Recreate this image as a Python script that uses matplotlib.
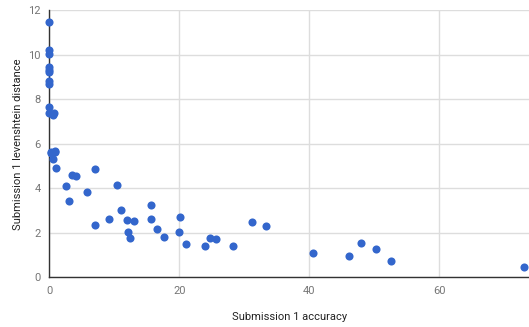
import matplotlib.pyplot as plt

# точки: точность (x) и расстояние Левенштейна (y)
accuracy = [0.0, 0.0, 0.0, 0.0, 0.0, 0.0, 0.0, 0.0, 0.0, 0.0, 0.75, 0.6,
            0.2, 0.85, 0.33, 0.9, 0.6, 1.0, 2.5, 3.0, 3.45, 4.1, 5.75, 7.0,
            7.0, 9.25, 10.45, 11.0, 12.0, 13.0, 12.15, 12.45, 15.6, 15.7,
            16.6, 17.6, 20.1, 20.0, 21.0, 23.9, 24.7, 25.6, 28.2, 31.2,
            33.3, 40.55, 46.1, 47.9, 50.2, 52.6, 73.0]
distance = [11.46, 10.2, 10.05, 9.45, 9.3, 9.23, 8.82, 8.68, 7.65, 7.37,
            7.4, 7.28, 5.63, 5.68, 5.59, 5.63, 5.33, 4.91, 4.1, 3.45, 4.58,
            4.54, 3.83, 4.88, 2.35, 2.61, 4.17, 3.04, 2.59, 2.52, 2.05, 1.75,
            3.27, 2.61, 2.16, 1.81, 2.71, 2.04, 1.51, 1.39, 1.75, 1.74, 1.41,
            2.47, 2.32, 1.07, 0.94, 1.53, 1.26, 0.71, 0.45]

x_ticks = [0, 20, 40, 60]
y_ticks = [0, 2, 4, 6, 8, 10, 12]

plt.rcParams['font.family'] = ['Roboto', 'DejaVu Sans']

fig = plt.figure(figsize=(5.29, 3.27), dpi=100)
ax = fig.add_axes([49.3 / 529, 0.152, 1 - 49.3 / 529, 0.9685 - 0.152])

ax.scatter(accuracy, distance, s=34, color='#3366cc', linewidths=0,
           zorder=3, clip_on=False)

ax.set_xlim(0, 73.8)
ax.set_ylim(0, 12)
ax.set_xticks(x_ticks)
ax.set_yticks(y_ticks)
ax.grid(True, color='#dddddd', linewidth=1)
ax.set_axisbelow(True)
for side in ['top', 'right']:
    ax.spines[side].set_visible(False)
for side in ['left', 'bottom']:
    ax.spines[side].set_color('#333333')
    ax.spines[side].set_linewidth(1)
    ax.spines[side].set_zorder(2)
ax.tick_params(length=0, labelsize=8, labelcolor='#757575', pad=6)

ax.set_xlabel('Submission 1 accuracy', fontsize=8, color='#222222',
              labelpad=12)
ax.set_ylabel('Submission 1 levenshtein distance', fontsize=8,
              color='#222222', labelpad=4)

fig.savefig('out.png', dpi=100)
